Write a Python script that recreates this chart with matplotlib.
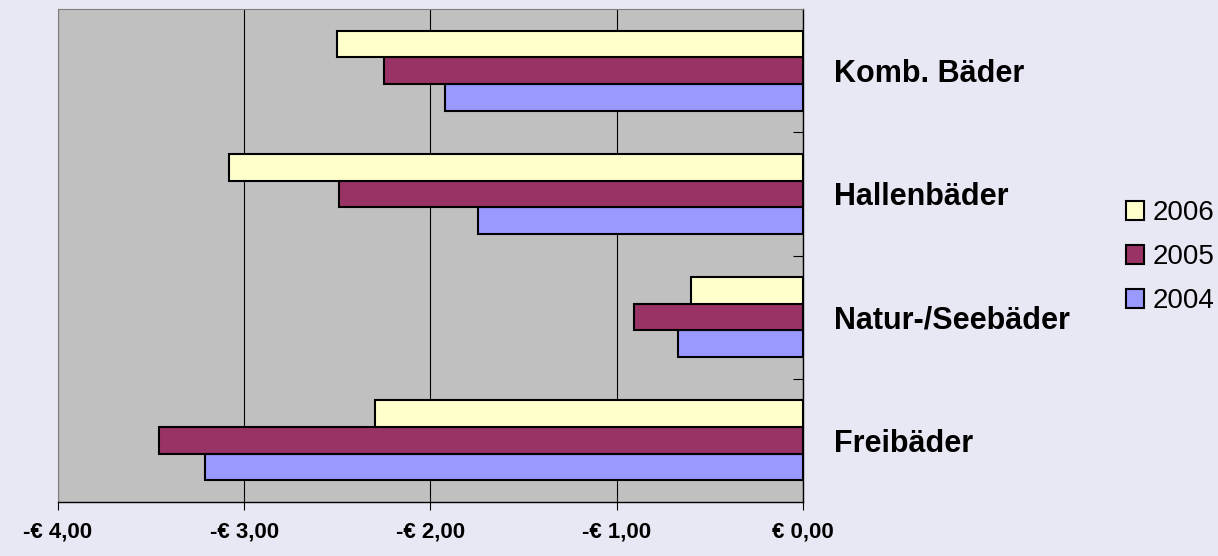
import numpy as np
import matplotlib.pyplot as plt
from matplotlib.ticker import FixedLocator

plt.rcParams['font.family'] = ['Liberation Sans', 'DejaVu Sans']

# Daten (Euro je Besucher), Reihenfolge von unten nach oben
baeder = ['Freibäder', 'Natur-/Seebäder', 'Hallenbäder', 'Komb. Bäder']
jahre = ['2004', '2005', '2006']
werte_2004 = [-3.21, -0.67, -1.745, -1.92]
werte_2005 = [-3.46, -0.91, -2.49, -2.25]
werte_2006 = [-2.30, -0.60, -3.08, -2.50]
x_ticks = [-4, -3, -2, -1, 0]
x_labels = ['-€ 4,00', '-€ 3,00', '-€ 2,00', '-€ 1,00', '€ 0,00']

farben = {'2004': '#9999FF', '2005': '#993366', '2006': '#FFFFCC'}

fig = plt.figure(figsize=(12.18, 5.56), dpi=100, facecolor='#e8e8f4')
ax = fig.add_axes([58/1218, 1-502/556, (803-58)/1218, (502-9)/556])
ax.set_facecolor('#C0C0C0')

y = np.arange(len(baeder))
h = 0.217
bars = {}
for jahr, werte, off in [('2004', werte_2004, -h), ('2005', werte_2005, 0), ('2006', werte_2006, h)]:
    bars[jahr] = ax.barh(y + off, werte, height=h, color=farben[jahr],
                         edgecolor='black', linewidth=1.5, zorder=3, label=jahr)

ax.set_xlim(-4, 0)
ax.set_ylim(-0.5, len(baeder) - 0.5)
ax.xaxis.grid(True, color='black', linewidth=0.8, zorder=1)
ax.tick_params(axis='x', direction='out', length=6, width=0.8, pad=8, labelsize=16)
ax.set_xticks(x_ticks)
ax.set_xticklabels(x_labels, fontsize=16, fontweight='bold')

ax.yaxis.tick_right()
ax.tick_params(axis='y', which='major', length=0, pad=22, labelsize=22)
ax.yaxis.set_minor_locator(FixedLocator([0.5, 1.5, 2.5]))
ax.tick_params(axis='y', which='minor', direction='in', length=7, width=0.8)
ax.set_yticks(y)
ax.set_yticklabels(baeder, fontsize=22, fontweight='bold')

for s in ['top', 'left']:
    ax.spines[s].set_color('#808080')
for s in ['right', 'bottom']:
    ax.spines[s].set_color('black')
    ax.spines[s].set_linewidth(1)

handles = [bars['2006'], bars['2005'], bars['2004']]
fig.legend(handles, ['2006', '2005', '2004'], loc='center left',
           bbox_to_anchor=(1120/1218, 1-257/556), frameon=False, fontsize=20,
           handlelength=0.68, handleheight=0.68, handletextpad=0.3, labelspacing=0.65,
           borderaxespad=0, borderpad=0.2)

fig.savefig('out.png', dpi=100, facecolor=fig.get_facecolor())
